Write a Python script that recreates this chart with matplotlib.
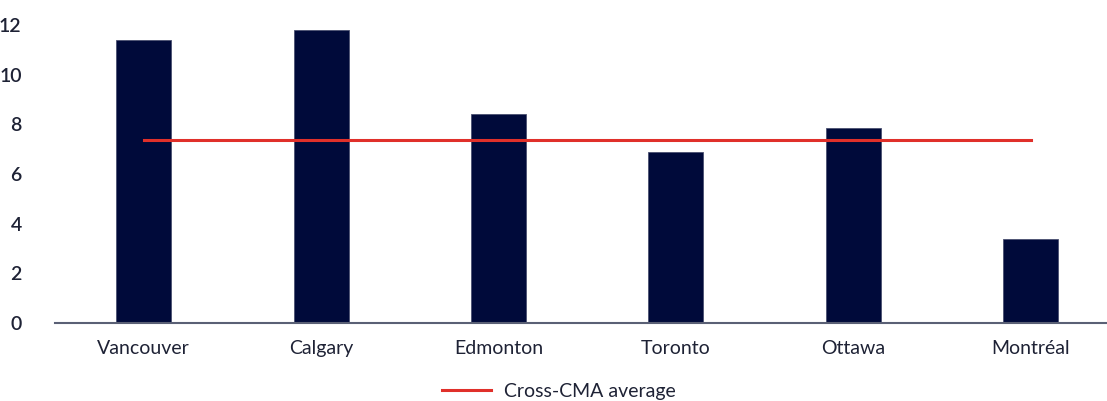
import matplotlib
matplotlib.use("Agg")
import matplotlib.pyplot as plt
from matplotlib.lines import Line2D

cities = ["Vancouver", "Calgary", "Edmonton", "Toronto", "Ottawa", "Montréal"]
values = [11.4, 11.8, 8.4, 6.9, 7.85, 3.4]
avg_value = 7.38
avg_label = "Cross-CMA average"
yticks = [0, 2, 4, 6, 8, 10, 12]

plt.rcParams['font.family'] = ['Lato', 'DejaVu Sans']
text_color = "#1e2235"

fig = plt.figure(figsize=(11.07, 4.01), dpi=100)
ax = fig.add_axes([55/1107, 78/401, 1 - 55/1107, 298/401])

x = list(range(len(cities)))
ax.bar(x, values, width=0.31, color="#000a3a", edgecolor="#4a5070", linewidth=0.6, zorder=2)
ax.plot([x[0], x[-1]], [avg_value, avg_value], color="#e0302a", linewidth=2.2, zorder=3)

ax.set_ylim(0, 12)
ax.set_xlim(-0.5, 5.43)
ax.set_yticks(yticks)
ax.set_yticklabels([str(t) for t in yticks], fontsize=14, color=text_color, fontweight="semibold")
ax.set_xticks(x)
ax.set_xticklabels(cities, fontsize=14, color=text_color)
ax.tick_params(axis="y", length=0, pad=24)
ax.tick_params(axis="x", length=0, pad=12)

for s in ["top", "right", "left"]:
    ax.spines[s].set_visible(False)
ax.spines["bottom"].set_color("#5a6075")
ax.spines["bottom"].set_linewidth(1.5)

handle = Line2D([0], [0], color="#e0302a", linewidth=2.2)
fig.legend([handle], [avg_label], loc="center", bbox_to_anchor=(559/1107, 1 - 391/401),
           frameon=False, fontsize=14, handlelength=2.5, handletextpad=0.7, labelcolor=text_color)

fig.savefig("out.png", dpi=100)
